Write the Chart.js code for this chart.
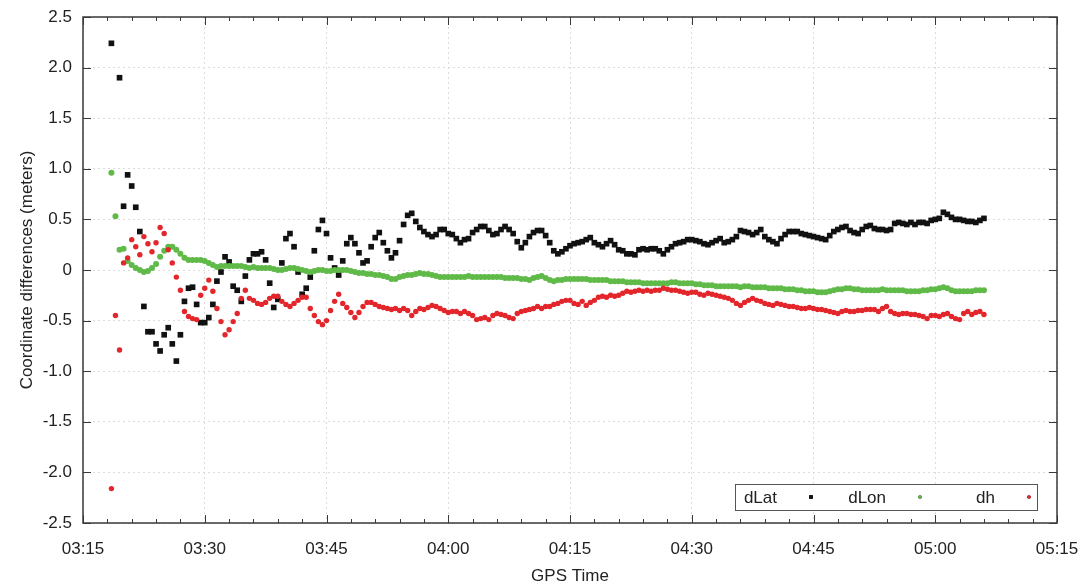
<!DOCTYPE html>
<html>
<head>
<meta charset="utf-8">
<title>Coordinate differences vs GPS time</title>
<script src="https://cdn.jsdelivr.net/npm/chart.js@4.4.1/dist/chart.umd.min.js"></script>
<style>
    html, body { margin: 0; padding: 0; background: #fff; }
    #wrap { width: 1081px; height: 587px; }
</style>
</head>
<body>
<div id="wrap"><canvas id="gpsChart" width="1081" height="587"></canvas></div>
<script>
// epochs: one fix every 30 s starting 03:18:30 (minutes after midnight)
const epochStart = 198.5;
const epochStep = 0.5;

// x axis: 03:15 .. 05:15, y axis: -2.5 .. 2.5 m
const timeTicks = ['03:15', '03:30', '03:45', '04:00', '04:15', '04:30', '04:45', '05:00', '05:15'];
const valueTicks = [-2.5, -2.0, -1.5, -1.0, -0.5, 0, 0.5, 1.0, 1.5, 2.0, 2.5];

const seriesNames = ['dLat', 'dLon', 'dh'];

const dLat = [
    2.24, null, 1.90, 0.63, 0.94, 0.83, 0.62, 0.38, -0.36, -0.61,
    -0.61, -0.73, -0.80, -0.64, -0.57, -0.73, -0.90, -0.64, -0.31, -0.18,
    -0.17, -0.34, -0.52, -0.52, -0.47, -0.34, -0.11, -0.02, 0.13, 0.08,
    -0.16, -0.20, -0.31, -0.06, 0.10, 0.16, 0.16, 0.18, 0.10, -0.13,
    -0.37, -0.29, 0.07, 0.31, 0.36, 0.23, -0.02, -0.24, -0.18, -0.07,
    0.19, 0.40, 0.49, 0.36, 0.12, 0.02, -0.05, 0.09, 0.26, 0.32,
    0.26, 0.17, 0.07, 0.09, 0.23, 0.32, 0.37, 0.27, 0.19, 0.12,
    0.17, 0.29, 0.45, 0.54, 0.56, 0.48, 0.42, 0.38, 0.35, 0.33,
    0.35, 0.40, 0.40, 0.36, 0.35, 0.31, 0.27, 0.30, 0.31, 0.37,
    0.40, 0.43, 0.43, 0.39, 0.35, 0.36, 0.40, 0.43, 0.40, 0.36,
    0.28, 0.22, 0.27, 0.33, 0.37, 0.39, 0.39, 0.34, 0.27, 0.19,
    0.16, 0.18, 0.21, 0.24, 0.26, 0.27, 0.28, 0.30, 0.32, 0.27,
    0.25, 0.23, 0.26, 0.29, 0.25, 0.20, 0.19, 0.16, 0.16, 0.15,
    0.20, 0.21, 0.20, 0.21, 0.21, 0.19, 0.16, 0.20, 0.23, 0.26,
    0.27, 0.28, 0.30, 0.30, 0.29, 0.28, 0.26, 0.25, 0.27, 0.29,
    0.31, 0.27, 0.28, 0.30, 0.33, 0.39, 0.38, 0.37, 0.35, 0.37,
    0.40, 0.33, 0.30, 0.28, 0.26, 0.31, 0.35, 0.38, 0.38, 0.38,
    0.36, 0.35, 0.34, 0.33, 0.32, 0.31, 0.30, 0.34, 0.38, 0.40,
    0.42, 0.43, 0.39, 0.37, 0.36, 0.40, 0.43, 0.44, 0.41, 0.40,
    0.40, 0.39, 0.40, 0.46, 0.47, 0.46, 0.45, 0.47, 0.45, 0.47,
    0.47, 0.46, 0.49, 0.50, 0.51, 0.57, 0.55, 0.52, 0.50, 0.50,
    0.49, 0.48, 0.48, 0.47, 0.49, 0.51
];

const dLon = [
    0.96, 0.53, 0.20, 0.21, 0.09, 0.05, 0.02, 0.00, -0.02, -0.01,
    0.02, 0.06, 0.13, 0.19, 0.23, 0.23, 0.20, 0.16, 0.12, 0.10,
    0.10, 0.10, 0.10, 0.09, 0.07, 0.05, 0.03, 0.04, 0.04, 0.04,
    0.04, 0.04, 0.04, 0.03, 0.02, 0.03, 0.02, 0.02, 0.02, 0.02,
    0.01, 0.00, 0.00, 0.01, 0.02, 0.02, 0.01, 0.00, -0.01, -0.02,
    -0.01, 0.00, 0.00, -0.01, -0.01, 0.00, 0.00, 0.00, 0.00, -0.01,
    -0.02, -0.03, -0.03, -0.04, -0.04, -0.05, -0.05, -0.06, -0.07, -0.09,
    -0.09, -0.07, -0.06, -0.05, -0.05, -0.04, -0.03, -0.04, -0.04, -0.05,
    -0.06, -0.07, -0.07, -0.07, -0.07, -0.07, -0.07, -0.07, -0.06, -0.07,
    -0.07, -0.07, -0.07, -0.07, -0.07, -0.07, -0.07, -0.08, -0.08, -0.08,
    -0.08, -0.09, -0.09, -0.10, -0.08, -0.07, -0.06, -0.08, -0.10, -0.11,
    -0.10, -0.10, -0.09, -0.09, -0.09, -0.09, -0.09, -0.09, -0.10, -0.10,
    -0.10, -0.10, -0.10, -0.11, -0.11, -0.11, -0.11, -0.12, -0.12, -0.12,
    -0.12, -0.13, -0.13, -0.13, -0.13, -0.13, -0.13, -0.13, -0.12, -0.12,
    -0.13, -0.13, -0.13, -0.13, -0.14, -0.14, -0.15, -0.15, -0.15, -0.16,
    -0.16, -0.16, -0.16, -0.16, -0.16, -0.17, -0.16, -0.16, -0.17, -0.17,
    -0.17, -0.17, -0.18, -0.18, -0.18, -0.18, -0.19, -0.19, -0.19, -0.20,
    -0.20, -0.21, -0.21, -0.21, -0.22, -0.22, -0.22, -0.21, -0.20, -0.19,
    -0.19, -0.18, -0.18, -0.19, -0.19, -0.20, -0.20, -0.20, -0.20, -0.20,
    -0.19, -0.20, -0.20, -0.20, -0.20, -0.20, -0.21, -0.21, -0.21, -0.21,
    -0.20, -0.20, -0.19, -0.19, -0.18, -0.17, -0.18, -0.20, -0.21, -0.21,
    -0.21, -0.21, -0.21, -0.20, -0.20, -0.20
];

const dh = [
    -2.16, -0.45, -0.79, 0.07, 0.12, 0.30, 0.23, 0.15, 0.33, 0.26,
    0.18, 0.27, 0.42, 0.36, 0.20, 0.07, -0.07, -0.20, -0.41, -0.46,
    -0.48, -0.49, -0.25, -0.18, -0.10, -0.21, -0.38, -0.51, -0.64, -0.59,
    -0.51, -0.43, -0.28, -0.20, -0.28, -0.30, -0.33, -0.34, -0.32, -0.28,
    -0.26, -0.26, -0.31, -0.34, -0.36, -0.33, -0.30, -0.27, -0.27, -0.38,
    -0.45, -0.51, -0.54, -0.50, -0.40, -0.31, -0.24, -0.33, -0.37, -0.42,
    -0.47, -0.42, -0.36, -0.32, -0.32, -0.34, -0.36, -0.37, -0.38, -0.39,
    -0.38, -0.40, -0.38, -0.40, -0.45, -0.41, -0.38, -0.39, -0.37, -0.35,
    -0.36, -0.38, -0.40, -0.42, -0.41, -0.41, -0.43, -0.41, -0.43, -0.45,
    -0.49, -0.48, -0.47, -0.49, -0.45, -0.43, -0.44, -0.45, -0.47, -0.48,
    -0.43, -0.41, -0.40, -0.39, -0.38, -0.36, -0.38, -0.36, -0.36, -0.34,
    -0.33, -0.31, -0.30, -0.30, -0.33, -0.34, -0.31, -0.35, -0.32, -0.30,
    -0.27, -0.26, -0.27, -0.25, -0.26, -0.25, -0.23, -0.21, -0.22, -0.21,
    -0.20, -0.21, -0.20, -0.21, -0.20, -0.20, -0.18, -0.19, -0.20, -0.20,
    -0.21, -0.22, -0.23, -0.22, -0.22, -0.24, -0.25, -0.23, -0.24, -0.25,
    -0.26, -0.27, -0.28, -0.30, -0.33, -0.35, -0.32, -0.30, -0.28, -0.30,
    -0.31, -0.33, -0.34, -0.35, -0.33, -0.34, -0.35, -0.36, -0.36, -0.37,
    -0.38, -0.38, -0.37, -0.38, -0.39, -0.39, -0.40, -0.41, -0.42, -0.43,
    -0.41, -0.40, -0.41, -0.41, -0.40, -0.40, -0.39, -0.39, -0.39, -0.41,
    -0.38, -0.36, -0.41, -0.43, -0.44, -0.43, -0.43, -0.44, -0.44, -0.45,
    -0.46, -0.48, -0.45, -0.45, -0.46, -0.44, -0.43, -0.46, -0.48, -0.49,
    -0.43, -0.41, -0.44, -0.42, -0.41, -0.44
];

const textColor = '#222';
const frameColor = '#3a3a3a';
const gridColor = '#dcdcdc';
const fontFamily = '"Liberation Sans", Arial, Helvetica, sans-serif';

function toMinutes(label) {
    let parts = label.split(':');
    return Number(parts[0]) * 60 + Number(parts[1]);
}

function hhmm(min) {
    let h = Math.floor(min / 60);
    let m = Math.round(min - h * 60);
    return String(h).padStart(2, '0') + ':' + String(m).padStart(2, '0');
}

function toPoints(values) {
    let pts = [];
    values.forEach(function (v, i) {
        if (v !== null) {
            pts.push({ x: epochStart + i * epochStep, y: v });
        }
    });
    return pts;
}

const xMin = toMinutes(timeTicks[0]);
const xMax = toMinutes(timeTicks[timeTicks.length - 1]);

// gnuplot style frame with inward ticks on all four sides
const frameTicks = {
    id: 'frameTicks',
    afterDatasetsDraw(chart) {
        const { ctx, chartArea: a, scales } = chart;
        const x = scales.x, y = scales.y;

        ctx.save();
        ctx.strokeStyle = frameColor;
        ctx.lineWidth = 1;
        ctx.beginPath();
        for (let m = xMin; m <= xMax; m += 3) {
            let px = Math.round(x.getPixelForValue(m)) + 0.5;
            let len = (m - xMin) % 15 === 0 ? 8 : 4;
            ctx.moveTo(px, a.bottom);
            ctx.lineTo(px, a.bottom - len);
            ctx.moveTo(px, a.top);
            ctx.lineTo(px, a.top + len);
        }
        valueTicks.forEach(function (v) {
            let py = Math.round(y.getPixelForValue(v)) + 0.5;
            ctx.moveTo(a.left, py);
            ctx.lineTo(a.left + 8, py);
            ctx.moveTo(a.right, py);
            ctx.lineTo(a.right - 8, py);
        });
        ctx.stroke();

        ctx.lineWidth = 1.5;
        ctx.strokeRect(a.left, a.top, a.right - a.left, a.bottom - a.top);
        ctx.restore();
    }
};

// key box inside the plot, bottom right: label first, then the symbol
const keyBox = {
    id: 'keyBox',
    afterDraw(chart) {
        const { ctx, chartArea: a } = chart;
        let boxRight = a.right - 20;
        let boxBottom = a.bottom - 13;
        let boxW = 302, boxH = 26;
        let boxLeft = boxRight - boxW;
        let midY = boxBottom - boxH / 2;

        ctx.save();
        ctx.fillStyle = '#fff';
        ctx.fillRect(boxLeft, boxBottom - boxH, boxW, boxH);
        ctx.strokeStyle = '#555';
        ctx.lineWidth = 1;
        ctx.strokeRect(boxLeft + 0.5, boxBottom - boxH + 0.5, boxW, boxH);

        ctx.font = '17px ' + fontFamily;
        ctx.textAlign = 'right';
        ctx.textBaseline = 'middle';

        chart.data.datasets.forEach(function (ds, i) {
            let symX = boxLeft + 76 + i * 109;
            ctx.fillStyle = textColor;
            ctx.fillText(ds.label, symX - 34, midY + 1);
            Chart.helpers.drawPoint(ctx, {
                pointStyle: ds.pointStyle,
                radius: ds.pointStyle === 'rect' ? 2.6 : 1.8,
                borderWidth: 0,
                rotation: 0
            }, symX, midY);
            ctx.fillStyle = ds.backgroundColor;
            ctx.fill();
        });
        ctx.restore();
    }
};

Chart.defaults.font.family = fontFamily;
Chart.defaults.color = textColor;

const tickFont = { size: 17 };
const titleFont = { size: 17 };

new Chart(document.getElementById('gpsChart'), {
    type: 'scatter',
    data: {
        datasets: [
            {
                label: seriesNames[0],
                data: toPoints(dLat),
                pointStyle: 'rect',
                pointRadius: 4,
                backgroundColor: '#111',
                borderWidth: 0,
                order: 3
            },
            {
                label: seriesNames[1],
                data: toPoints(dLon),
                pointStyle: 'circle',
                pointRadius: 3,
                backgroundColor: '#5fba48',
                borderWidth: 0,
                order: 2
            },
            {
                label: seriesNames[2],
                data: toPoints(dh),
                pointStyle: 'circle',
                pointRadius: 2.7,
                backgroundColor: '#e3262b',
                borderWidth: 0,
                order: 1
            }
        ]
    },
    options: {
        responsive: false,
        animation: false,
        devicePixelRatio: 1,
        layout: { padding: { top: 17, right: 24, bottom: 0, left: 0 } },
        plugins: {
            legend: { display: false },
            tooltip: { enabled: false }
        },
        scales: {
            x: {
                type: 'linear',
                min: xMin,
                max: xMax,
                ticks: {
                    stepSize: 15,
                    font: tickFont,
                    color: textColor,
                    padding: 16,
                    maxRotation: 0,
                    autoSkip: false,
                    callback: function (v) { return hhmm(v); }
                },
                grid: { color: gridColor, lineWidth: 1, drawTicks: false },
                border: { display: false, dash: [2, 3] },
                title: {
                    display: true,
                    text: 'GPS Time',
                    font: titleFont,
                    color: textColor,
                    padding: { top: 0, bottom: 0 }
                },
                afterFit: function (scale) {
                    scale.height = 64;
                    scale.paddingLeft = 0;
                    scale.paddingRight = 0;
                }
            },
            y: {
                min: valueTicks[0],
                max: valueTicks[valueTicks.length - 1],
                ticks: {
                    stepSize: 0.5,
                    font: tickFont,
                    color: textColor,
                    padding: 11,
                    callback: function (v) { return v === 0 ? '0' : v.toFixed(1); }
                },
                grid: { color: gridColor, lineWidth: 1, drawTicks: false },
                border: { display: false, dash: [2, 3] },
                title: {
                    display: true,
                    text: 'Coordinate differences (meters)',
                    font: titleFont,
                    color: textColor,
                    padding: { top: 17, bottom: 0 }
                },
                afterFit: function (scale) {
                    scale.width = 83;
                    scale.paddingTop = 0;
                    scale.paddingBottom = 0;
                }
            }
        }
    },
    plugins: [frameTicks, keyBox]
});
</script>
</body>
</html>
